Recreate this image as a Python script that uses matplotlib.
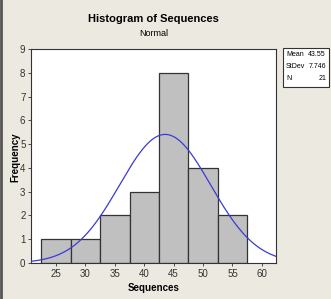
import numpy as np
import matplotlib
matplotlib.use("Agg")
import matplotlib.pyplot as plt
from matplotlib.patches import Rectangle

# Data
bin_centers = [25, 30, 35, 40, 45, 50, 55]
counts = [1, 1, 2, 3, 8, 4, 2]
bin_width = 5
mean = 43.55
stdev = 7.746
n = 21
xticks = [25, 30, 35, 40, 45, 50, 55, 60]
yticks = list(range(0, 10))

plt.rcParams["font.family"] = ["Liberation Sans", "DejaVu Sans"]

W, H = 331, 299
fig = plt.figure(figsize=(W / 100, H / 100), dpi=100)
bg = "#ECE9E1"
fig.patch.set_facecolor(bg)

l, r, t, b = 31, 276, 49, 263
ax = fig.add_axes([l / W, 1 - b / H, (r - l) / W, (b - t) / H])
ax.set_facecolor("white")

ax.bar(bin_centers, counts, width=bin_width, color="#C0C0C0",
       edgecolor="#333333", linewidth=0.9, zorder=2)

xs = np.linspace(20.75, 62.4, 300)
ys = n * bin_width / (stdev * np.sqrt(2 * np.pi)) * np.exp(-0.5 * ((xs - mean) / stdev) ** 2)
ax.plot(xs, ys, color="#3A3AD8", linewidth=0.9, zorder=3)

ax.set_xlim(20.75, 62.4)
ax.set_ylim(0, 9)
ax.set_xticks(xticks)
ax.set_yticks(yticks)
ax.tick_params(axis="both", labelsize=7, length=2.5, width=0.6, colors="#333333", pad=1.5)
for s in ax.spines.values():
    s.set_color("#333333")
    s.set_linewidth(0.8)

ax.set_xlabel("Sequences", fontsize=7, fontweight="bold")
ax.xaxis.set_label_coords(0.5, -(288 - 263) / (b - t))
ax.xaxis.label.set_va("center")
ax.set_ylabel("Frequency", fontsize=7, fontweight="bold")
ax.yaxis.set_label_coords(-(31 - 15) / (r - l), (263 - 157) / (b - t))
ax.yaxis.label.set_va("center")

fig.text(153.5 / W, 1 - 19 / H, "Histogram of Sequences", ha="center", va="center",
         fontsize=8, fontweight="bold")
fig.text(153.5 / W, 1 - 33 / H, "Normal", ha="center", va="center", fontsize=6.5)

bx0, by0, bx1, by1 = 283, 48, 329, 87
fig.patches.append(Rectangle((bx0 / W, 1 - by1 / H), (bx1 - bx0) / W, (by1 - by0) / H,
                             transform=fig.transFigure, facecolor="white",
                             edgecolor="#333333", linewidth=0.8))
labels = ["Mean", "StDev", "N"]
vals = ["43.55", "7.746", "21"]
for i, (lab, v) in enumerate(zip(labels, vals)):
    y = 1 - (55 + i * 12) / H
    fig.text(286 / W, y, lab, ha="left", va="center", fontsize=5)
    fig.text(326 / W, y, v, ha="right", va="center", fontsize=5)

fig.add_artist(plt.Line2D([1 / W, 1 / W], [0, 1], transform=fig.transFigure,
                          color="#555555", linewidth=2))

fig.savefig("out.png", dpi=100, facecolor=bg)
